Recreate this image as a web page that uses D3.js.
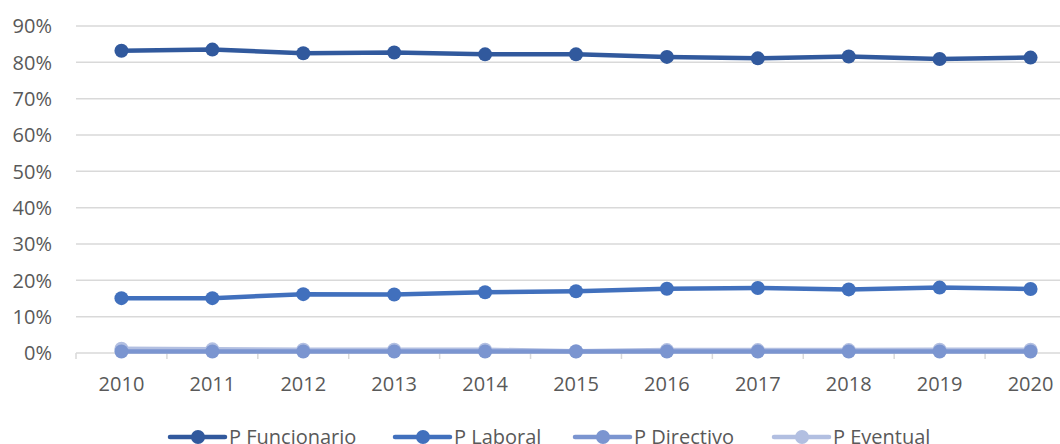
<!DOCTYPE html>
<html>
<head>
<meta charset="utf-8">
<script src="https://cdn.jsdelivr.net/npm/d3@7"></script>
<style>
  body { margin: 0; background: #fff; }
  svg { display: block; font-family: "Open Sans", sans-serif; }
</style>
</head>
<body>
<svg id="chart"></svg>
<script>
const years = ["2010", "2011", "2012", "2013", "2014", "2015", "2016", "2017", "2018", "2019", "2020"];
const funcionario = [83.2, 83.5, 82.5, 82.7, 82.2, 82.2, 81.5, 81.1, 81.6, 80.9, 81.3];
const laboral = [15.1, 15.1, 16.2, 16.1, 16.7, 17.0, 17.7, 17.9, 17.5, 18.0, 17.6];
const directivo = [0.4, 0.4, 0.4, 0.4, 0.4, 0.4, 0.4, 0.4, 0.4, 0.4, 0.4];
const eventual = [1.2, 1.0, 0.9, 0.9, 0.9, 0.5, 0.8, 0.8, 0.8, 0.9, 0.9];
const yTicks = [0, 10, 20, 30, 40, 50, 60, 70, 80, 90];

const series = [
  { name: "P Funcionario", values: funcionario, color: "#31599d" },
  { name: "P Laboral", values: laboral, color: "#4170bd" },
  { name: "P Directivo", values: directivo, color: "#7b95d0" },
  { name: "P Eventual", values: eventual, color: "#b2bfe1" }
];

const width = 1060, height = 444;
const margin = { top: 26, right: -16, bottom: 91, left: 76 };

const svg = d3.select("#chart")
  .attr("width", width)
  .attr("height", height);

const x = d3.scaleBand()
  .domain(years)
  .range([margin.left, width - margin.right]);

const y = d3.scaleLinear()
  .domain([0, 90])
  .range([height - margin.bottom, margin.top]);

// gridlines
svg.append("g")
  .selectAll("line")
  .data(yTicks)
  .join("line")
  .attr("x1", margin.left)
  .attr("x2", width)
  .attr("y1", d => y(d))
  .attr("y2", d => y(d))
  .attr("stroke", "#d9d9d9")
  .attr("stroke-width", 1.5);

// y labels
svg.append("g")
  .selectAll("text")
  .data(yTicks)
  .join("text")
  .attr("x", 52)
  .attr("y", d => y(d))
  .attr("dy", "0.36em")
  .attr("text-anchor", "end")
  .attr("font-size", 20)
  .attr("fill", "#595959")
  .text(d => d + "%");

// x axis ticks
const tickPos = years.map(d => x(d)).concat([x(years[years.length - 1]) + x.bandwidth()]);
svg.append("g")
  .selectAll("line")
  .data(tickPos)
  .join("line")
  .attr("x1", d => d)
  .attr("x2", d => d)
  .attr("y1", y(0))
  .attr("y2", y(0) + 6)
  .attr("stroke", "#d9d9d9")
  .attr("stroke-width", 1.5);

svg.append("g")
  .selectAll("text")
  .data(years)
  .join("text")
  .attr("x", d => x(d) + x.bandwidth() / 2)
  .attr("y", y(0) + 31)
  .attr("dy", "0.36em")
  .attr("text-anchor", "middle")
  .attr("font-size", 20)
  .attr("fill", "#595959")
  .text(d => d);

const line = d3.line()
  .x((d, i) => x(years[i]) + x.bandwidth() / 2)
  .y(d => y(d));

// draw series in reverse so Funcionario sits on top
const plot = svg.append("g");
series.slice().reverse().forEach(s => {
  const g = plot.append("g");
  g.append("path")
    .datum(s.values)
    .attr("fill", "none")
    .attr("stroke", s.color)
    .attr("stroke-width", 4.5)
    .attr("stroke-linejoin", "round")
    .attr("d", line);
  g.selectAll("circle")
    .data(s.values)
    .join("circle")
    .attr("cx", (d, i) => x(years[i]) + x.bandwidth() / 2)
    .attr("cy", d => y(d))
    .attr("r", 7)
    .attr("fill", s.color);
});

// legend
const legendX = [170, 395, 575, 774];
const legend = svg.append("g");
series.forEach((s, i) => {
  const g = legend.append("g").attr("transform", `translate(${legendX[i]},437)`);
  g.append("line")
    .attr("x1", 0).attr("x2", 55)
    .attr("stroke", s.color)
    .attr("stroke-width", 4.5)
    .attr("stroke-linecap", "round");
  g.append("circle")
    .attr("cx", 28).attr("r", 7)
    .attr("fill", s.color);
  g.append("text")
    .attr("x", 59)
    .attr("dy", "0.36em")
    .attr("font-size", 20)
    .attr("fill", "#595959")
    .text(s.name);
});
</script>
</body>
</html>
